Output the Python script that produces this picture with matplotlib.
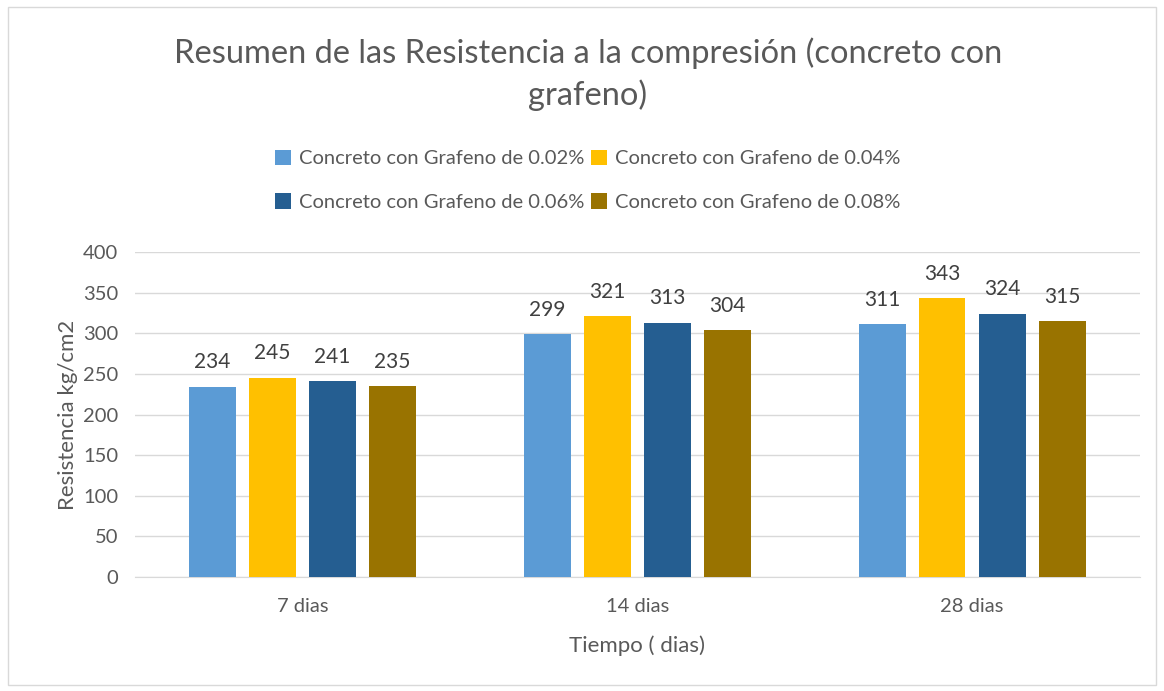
import numpy as np
import matplotlib
matplotlib.use('agg')
import matplotlib.pyplot as plt
from matplotlib.patches import Rectangle

plt.rcParams['font.family'] = ['Lato', 'DejaVu Sans']

categories = ['7 dias', '14 dias', '28 dias']
series_names = ['Concreto con Grafeno de 0.02%', 'Concreto con Grafeno de 0.04%',
                'Concreto con Grafeno de 0.06%', 'Concreto con Grafeno de 0.08%']
g002 = [234, 299, 311]
g004 = [245, 321, 343]
g006 = [241, 313, 324]
g008 = [235, 304, 315]
colours = ['#5B9BD5', '#FFC000', '#255E91', '#997300']

fig = plt.figure(figsize=(11.64, 6.91), dpi=100)
fig.patches.append(Rectangle((0.007, 0.008), 0.986, 0.982, transform=fig.transFigure,
                             fill=False, edgecolor='#D9D9D9', linewidth=1))
ax = fig.add_axes([0.116, 0.165, 0.863, 0.47])

x = np.arange(len(categories))
offsets = [-0.269, -0.090, 0.090, 0.269]
width = 0.14
handles = []
for vals, off, col, name in zip([g002, g004, g006, g008], offsets, colours, series_names):
    bars = ax.bar(x + off, vals, width, color=col, label=name, zorder=3)
    handles.append(bars)
    for b, v in zip(bars, vals):
        ax.text(b.get_x() + b.get_width() / 2, v + 18, str(v), ha='center', va='bottom',
                fontsize=15, color='#404040')

ax.set_xlim(-0.5, 2.5)
ax.set_ylim(0, 400)
ax.set_yticks(range(0, 401, 50))
ax.yaxis.grid(True, color='#D9D9D9', linewidth=1, zorder=0)
for s in ['top', 'right', 'left']:
    ax.spines[s].set_visible(False)
ax.spines['bottom'].set_color('#D9D9D9')
ax.set_xticks(x)
ax.set_xticklabels(categories)
ax.tick_params(axis='x', length=0, labelsize=14.5, labelcolor='#595959', pad=15)
ax.tick_params(axis='y', length=0, labelsize=14.5, labelcolor='#595959', pad=12)
ax.set_xlabel('Tiempo ( dias)', fontsize=16, color='#595959', labelpad=15)
ax.set_ylabel('Resistencia kg/cm2', fontsize=16, color='#595959', labelpad=4)

fig.text(0.505, 0.893, 'Resumen de las Resistencia a la compresión (concreto con\ngrafeno)',
         ha='center', va='center', fontsize=23.5, color='#595959', linespacing=1.4)

order = [0, 2, 1, 3]
fig.legend([handles[i] for i in order], [series_names[i] for i in order],
           loc='center', bbox_to_anchor=(0.505, 0.739), ncol=2, frameon=False,
           fontsize=14.5, labelcolor='#595959', handlelength=0.8, handleheight=0.8,
           handletextpad=0.4, columnspacing=0.3, labelspacing=1.3)

plt.savefig('out.png')
